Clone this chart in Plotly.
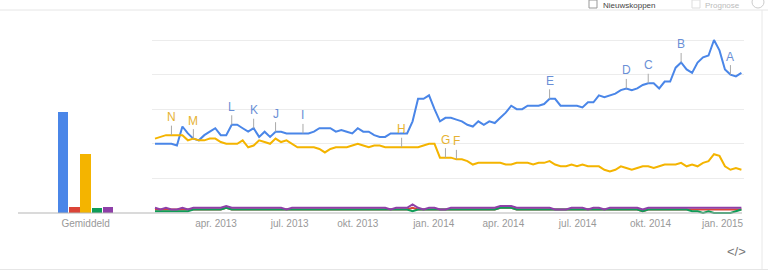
import plotly.graph_objects as go
import pandas as pd

# ---------------- data ----------------
start_date = "2013-01-06"
n_weeks = 108

blue = [40, 40, 40, 40, 39, 50, 46, 43, 42, 45, 47, 49,
        45, 45, 51, 51, 49, 47, 49, 44, 47, 44, 47, 47,
        46, 46, 46, 46, 46, 47, 49, 49, 49, 47, 48, 47,
        46, 49, 47, 47, 45, 44, 44, 46, 46, 46, 46, 53,
        66, 66, 68, 60, 53, 55, 55, 54, 53, 51, 50, 53,
        51, 53, 52, 55, 58, 62, 60, 60, 62, 62, 62, 63,
        66, 66, 62, 62, 62, 62, 61, 64, 64, 68, 67, 68,
        69, 71, 72, 71, 72, 74, 75, 75, 72, 76, 76, 84,
        87, 83, 81, 87, 90, 91, 100, 94, 83, 80, 79, 81]

yellow = [43, 44, 45, 45, 45, 45, 42, 43, 42, 42, 43, 43,
          41, 40, 40, 40, 42, 38, 39, 42, 41, 40, 43, 41,
          42, 40, 38, 38, 38, 38, 37, 35, 37, 38, 38, 38,
          39, 40, 39, 38, 39, 39, 38, 38, 38, 38, 38, 38,
          38, 39, 40, 40, 32, 32, 32, 31, 31, 30, 28, 29,
          29, 29, 29, 29, 28, 28, 29, 29, 29, 28, 29, 29,
          30, 28, 27, 27, 28, 27, 28, 27, 27, 27, 25, 24,
          25, 27, 26, 25, 26, 27, 27, 26, 27, 28, 28, 28,
          29, 27, 28, 27, 29, 30, 34, 33, 27, 25, 26, 25]

red = [2, 2, 2, 2, 2, 2, 2, 2, 2, 2, 2, 2,
       2, 3, 2, 2, 2, 2, 2, 2, 2, 2, 2, 2,
       2, 2, 2, 2, 2, 2, 2, 2, 2, 2, 2, 2,
       2, 2, 2, 2, 2, 2, 2, 2, 2, 2, 2, 3,
       2, 2, 2, 2, 2, 2, 2, 2, 2, 2, 2, 2,
       2, 2, 2, 3, 3, 3, 2, 2, 2, 2, 2, 2,
       2, 2, 2, 2, 2, 2, 2, 2, 2, 2, 2, 2,
       2, 2, 2, 2, 2, 1, 2, 2, 2, 2, 2, 2,
       2, 2, 2, 2, 2, 2, 2, 2, 2, 2, 2, 2]

green = [1, 1, 1, 1, 1, 1, 1, 2, 2, 2, 2, 2,
         2, 3, 2, 2, 2, 2, 2, 2, 2, 2, 2, 2,
         2, 2, 2, 2, 2, 2, 2, 2, 2, 2, 2, 2,
         2, 2, 2, 2, 2, 2, 2, 2, 2, 2, 2, 1,
         2, 2, 2, 2, 2, 2, 2, 2, 2, 2, 2, 2,
         2, 2, 2, 3, 3, 3, 2, 2, 2, 2, 2, 2,
         2, 2, 2, 2, 2, 2, 2, 2, 2, 2, 2, 2,
         2, 2, 2, 2, 2, 1, 2, 2, 2, 2, 2, 2,
         2, 2, 1, 1, 0, 1, 0, 0, 0, 0, 1, 2]

purple = [3, 2, 3, 2, 2, 3, 2, 3, 3, 3, 3, 3,
          3, 4, 3, 3, 3, 3, 3, 3, 3, 3, 3, 3,
          2, 3, 3, 3, 3, 3, 3, 3, 3, 3, 3, 3,
          3, 3, 3, 3, 3, 3, 3, 2, 3, 3, 3, 5,
          3, 2, 3, 3, 2, 2, 3, 3, 3, 3, 3, 3,
          3, 3, 3, 4, 4, 4, 3, 3, 3, 3, 3, 3,
          3, 2, 2, 2, 3, 3, 3, 2, 3, 3, 2, 3,
          3, 3, 3, 3, 3, 2, 3, 3, 3, 3, 3, 3,
          3, 3, 3, 3, 3, 3, 3, 3, 3, 3, 3, 3]

averages = [58, 3.5, 34, 3, 3.5]
bar_label = "Gemiddeld"

tick_dates = ["2013-03-25", "2013-06-27", "2013-09-22", "2013-12-28",
              "2014-03-27", "2014-06-30", "2014-10-01", "2015-01-01"]
tick_labels = ["apr. 2013", "jul. 2013", "okt. 2013", "jan. 2014",
               "apr. 2014", "jul. 2014", "okt. 2014", "jan. 2015"]

# news headline markers: (letter, week index, series)
markers = [("N", 3, "yellow"), ("M", 7, "yellow"), ("L", 14, "blue"),
           ("K", 18, "blue"), ("J", 22, "blue"), ("I", 27, "blue"),
           ("H", 45, "yellow"), ("G", 53, "yellow"), ("F", 55, "yellow"),
           ("E", 72, "blue"), ("D", 86, "blue"), ("C", 90, "blue"),
           ("B", 96, "blue"), ("A", 105, "blue")]

# ---------------- styling ----------------
W, H = 768, 272
C_BLUE, C_RED, C_YEL, C_GRN, C_PUR = "#4a86e8", "#db4437", "#f4b400", "#0f9d58", "#8e3fa8"
LETTER_COL = {"blue": "#6a8fd6", "yellow": "#e6b232"}
FONT = "Liberation Sans, Arial, sans-serif"

dates = pd.date_range(start_date, periods=n_weeks, freq="7D")
series = {"blue": blue, "yellow": yellow}

def px_x(p):
    return p / W

def px_y(p):
    return (H - p) / H

y_range = [-1.5, 101]
y_dom = [px_y(215.6), px_y(38.27)]

fig = go.Figure()

# average bars (left panel)
fig.add_trace(go.Bar(x=[0, 1, 2, 3, 4], y=averages,
                     marker=dict(color=[C_BLUE, C_RED, C_YEL, C_GRN, C_PUR], line=dict(width=0)),
                     width=0.92, xaxis="x", yaxis="y", hoverinfo="skip", showlegend=False))

# time lines
for vals, col in [(blue, C_BLUE), (red, C_RED), (yellow, C_YEL), (green, C_GRN), (purple, C_PUR)]:
    fig.add_trace(go.Scatter(x=dates, y=vals, mode="lines",
                             line=dict(color=col, width=2), xaxis="x2", yaxis="y2",
                             hoverinfo="skip", showlegend=False))

px_per_day = (741.4 - 155) / ((dates[-1] - dates[0]).days)
x2_range = [dates[0] - pd.Timedelta(days=3 / px_per_day),
            dates[-1] + pd.Timedelta(days=2.6 / px_per_day)]

annotations = []
for letter, idx, s in markers:
    annotations.append(dict(x=dates[idx], y=series[s][idx], xref="x2", yref="y2",
                            text=letter, showarrow=True, arrowhead=0, arrowwidth=1,
                            arrowcolor="#a9a9a9", ax=0, ay=-18,
                            font=dict(family=FONT, size=12, color=LETTER_COL[s])))

# header remnants
annotations += [
    dict(x=px_x(601), y=1, xref="paper", yref="paper", text="Nieuwskoppen", showarrow=False,
         xanchor="left", yanchor="top", yshift=1, font=dict(family=FONT, size=8, color="#444")),
    dict(x=px_x(703), y=1, xref="paper", yref="paper", text="Prognose", showarrow=False,
         xanchor="left", yanchor="top", yshift=1, font=dict(family=FONT, size=8, color="#bbb")),
    dict(x=px_x(736), y=px_y(251), xref="paper", yref="paper", text="&lt;/&gt;", showarrow=False,
         xanchor="center", yanchor="middle", font=dict(family=FONT, size=13, color="#777")),
]

shapes = [
    # baseline
    dict(type="line", xref="paper", yref="y2", x0=px_x(18), x1=px_x(742), y0=0, y1=0,
         line=dict(color="#b5b5b5", width=1)),
    # header divider
    dict(type="line", xref="paper", yref="paper", x0=0, x1=1, y0=px_y(10), y1=px_y(10),
         line=dict(color="#e6e6e6", width=1)),
    # checkboxes
    dict(type="rect", xref="paper", yref="paper", x0=px_x(589), x1=px_x(597), y0=px_y(8), y1=px_y(0),
         line=dict(color="#999", width=1), fillcolor="white"),
    dict(type="rect", xref="paper", yref="paper", x0=px_x(692), x1=px_x(700), y0=px_y(8), y1=px_y(0),
         line=dict(color="#ddd", width=1), fillcolor="white"),
    dict(type="circle", xref="paper", yref="paper", x0=px_x(752), x1=px_x(764), y0=px_y(8), y1=px_y(-4),
         line=dict(color="#ccc", width=1)),
    # right card border
    dict(type="line", xref="paper", yref="paper", x0=px_x(762), x1=px_x(762), y0=px_y(269), y1=px_y(10),
         line=dict(color="#e8e8e8", width=1)),
    # bottom border
    dict(type="line", xref="paper", yref="paper", x0=0, x1=1, y0=px_y(269.5), y1=px_y(269.5),
         line=dict(color="#e6e6e6", width=1)),
]

fig.update_layout(
    width=W, height=H, margin=dict(l=0, r=0, t=0, b=0),
    paper_bgcolor="white", plot_bgcolor="white",
    font=dict(family=FONT, size=10, color="#999"),
    bargap=0,
    xaxis=dict(domain=[px_x(18), px_x(150)], range=[-4.04, 7.75], tickvals=[2], ticktext=[bar_label],
               showgrid=False, zeroline=False, showline=False, ticks="", fixedrange=True,
               tickfont=dict(family=FONT, size=10, color="#999")),
    yaxis=dict(domain=y_dom, range=y_range, showgrid=False, zeroline=False, showticklabels=False,
               showline=False, anchor="x"),
    xaxis2=dict(domain=[px_x(152), px_x(744)], range=x2_range, type="date", anchor="y2",
                tickvals=tick_dates, ticktext=tick_labels, showgrid=False, zeroline=False,
                showline=False, ticks="", tickfont=dict(family=FONT, size=10, color="#999")),
    yaxis2=dict(domain=y_dom, range=y_range, anchor="x2", tickvals=[20, 40, 60, 80, 100],
                showticklabels=False, showgrid=True, gridcolor="#ececec", gridwidth=1,
                zeroline=False, showline=False),
    annotations=annotations, shapes=shapes,
)

fig.write_html("out.html")
